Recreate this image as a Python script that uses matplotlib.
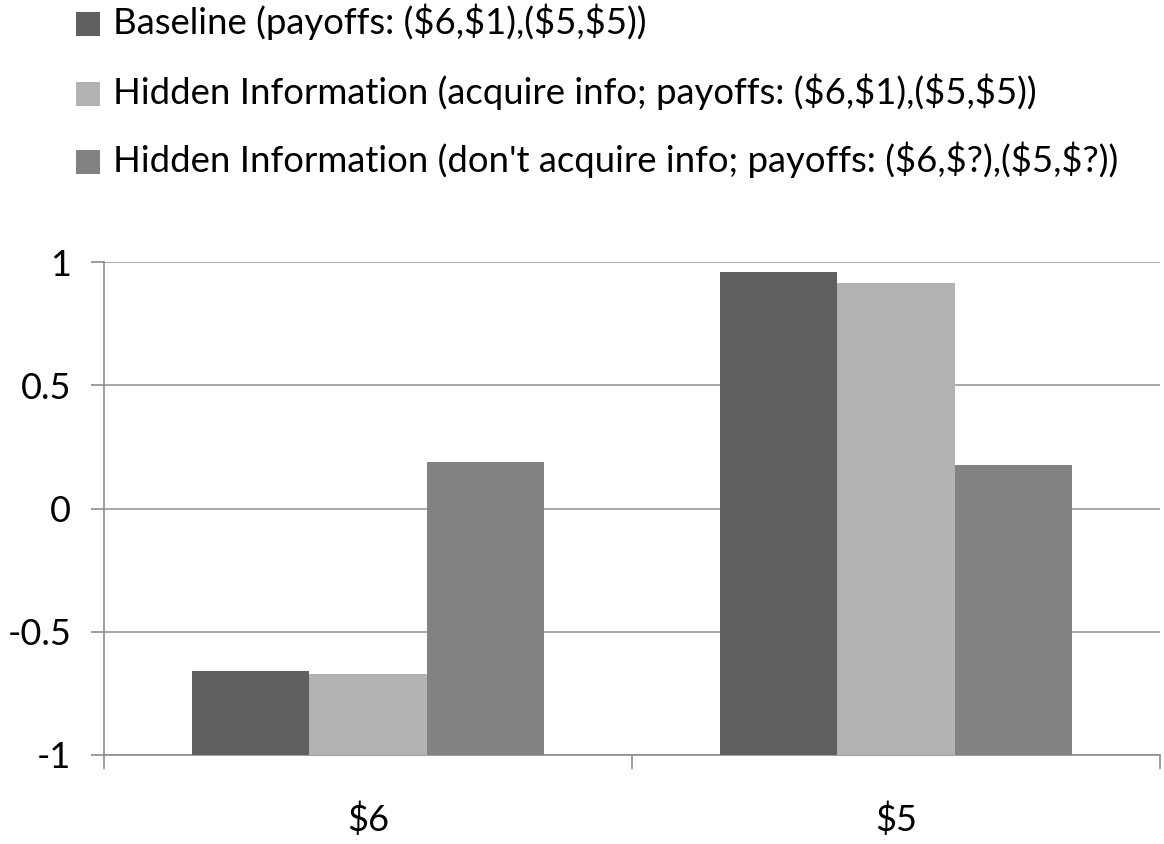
import matplotlib
matplotlib.use("Agg")
import matplotlib.pyplot as plt
import numpy as np
from matplotlib.patches import Rectangle

plt.rcParams['font.family'] = ['Lato', 'DejaVu Sans']

categories = ["$6", "$5"]
series_names = [
    r"Baseline (payoffs: (\$6,\$1),(\$5,\$5))",
    r"Hidden Information (acquire info; payoffs: (\$6,\$1),(\$5,\$5))",
    r"Hidden Information (don't acquire info; payoffs: (\$6,\$?),(\$5,\$?))",
]
baseline = [-0.66, 0.96]
acquire = [-0.672, 0.915]
dont_acquire = [0.19, 0.178]
series_values = [baseline, acquire, dont_acquire]
colors = ["#606060", "#b2b2b2", "#828282"]
y_ticks = [-1, -0.5, 0, 0.5, 1]
y_tick_labels = ["-1", "-0.5", "0", "0.5", "1"]

W, H = 1164, 844
fig = plt.figure(figsize=(W / 100, H / 100), dpi=100)
ax = fig.add_axes([104 / W, 1 - 755 / H, (1160 - 104) / W, (755 - 262) / H])

n = len(series_values)
bw = 1.0 / (n + 1.5)
centers = np.arange(len(categories)) + 0.5
bottom = -1
for i, (vals, c, name) in enumerate(zip(series_values, colors, series_names)):
    x = centers + (i - (n - 1) / 2) * bw
    ax.bar(x, np.array(vals) - bottom, bottom=bottom, width=bw, color=c,
           label=name, zorder=3, linewidth=0)

ax.set_xlim(0, len(categories))
ax.set_ylim(-1, 1)
ax.set_yticks(y_ticks)
ax.set_yticklabels(y_tick_labels)
ax.yaxis.grid(True, color="#a0a0a0", linewidth=1.3, zorder=0)
ax.set_axisbelow(True)

ax.set_xticks(np.arange(len(categories) + 1))
ax.set_xticklabels([])
ax.set_xticks(centers, minor=True)
ax.set_xticklabels(categories, minor=True)
ax.tick_params(axis='x', which='major', length=10, color="#8c8c8c", width=1.2, direction='out')
ax.tick_params(axis='x', which='minor', length=0, pad=34, labelsize=26)
ax.tick_params(axis='y', length=9.5, color="#8c8c8c", width=1.2, pad=14, labelsize=26)

for s in ['top', 'right']:
    ax.spines[s].set_visible(False)
for s in ['left', 'bottom']:
    ax.spines[s].set_color("#8c8c8c")
    ax.spines[s].set_linewidth(1.2)

# legend drawn manually (square + text rows)
row_centers = [24, 94, 162]
sq = 24
texts = []
for name, c, yc in zip(series_names, colors, row_centers):
    fig.patches.append(Rectangle((76 / W, 1 - (yc + sq / 2) / H), sq / W, sq / H,
                                 transform=fig.transFigure, facecolor=c,
                                 edgecolor='none', figure=fig))
    t = fig.text(113 / W, 1 - (yc + 9.5) / H, name, fontsize=24,
                 ha='left', va='baseline', color='black')
    texts.append(t)

renderer = fig.canvas.get_renderer()
wlast = texts[-1].get_window_extent(renderer).width
fs = 24 * (1120 - 113) / wlast
fs = min(fs, 26.5)
for t in texts:
    t.set_fontsize(fs)

fig.savefig("out.png", dpi=100)
